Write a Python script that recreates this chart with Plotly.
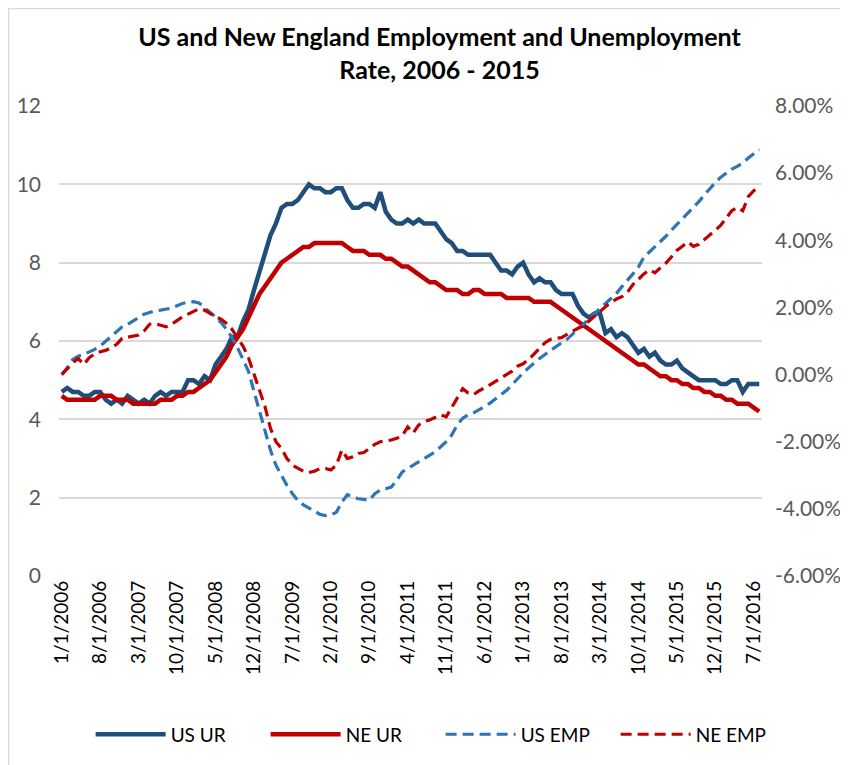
import pandas as pd
import plotly.graph_objects as go

# Monthly categories, Jan 2006 - Aug 2016
months = [f"{d.month}/1/{d.year}" for d in pd.date_range("2006-01-01", "2016-08-01", freq="MS")]

tick_labels = ["1/1/2006", "8/1/2006", "3/1/2007", "10/1/2007", "5/1/2008", "12/1/2008",
               "7/1/2009", "2/1/2010", "9/1/2010", "4/1/2011", "11/1/2011", "6/1/2012",
               "1/1/2013", "8/1/2013", "3/1/2014", "10/1/2014", "5/1/2015", "12/1/2015",
               "7/1/2016"]

us_ur = [4.7, 4.8, 4.7, 4.7, 4.6, 4.6, 4.7, 4.7, 4.5, 4.4, 4.5, 4.4,
         4.6, 4.5, 4.4, 4.5, 4.4, 4.6, 4.7, 4.6, 4.7, 4.7, 4.7, 5.0,
         5.0, 4.9, 5.1, 5.0, 5.4, 5.6, 5.8, 6.1, 6.1, 6.5, 6.8, 7.3,
         7.8, 8.3, 8.7, 9.0, 9.4, 9.5, 9.5, 9.6, 9.8, 10.0, 9.9, 9.9,
         9.8, 9.8, 9.9, 9.9, 9.6, 9.4, 9.4, 9.5, 9.5, 9.4, 9.8, 9.3,
         9.1, 9.0, 9.0, 9.1, 9.0, 9.1, 9.0, 9.0, 9.0, 8.8, 8.6, 8.5,
         8.3, 8.3, 8.2, 8.2, 8.2, 8.2, 8.2, 8.0, 7.8, 7.8, 7.7, 7.9,
         8.0, 7.7, 7.5, 7.6, 7.5, 7.5, 7.3, 7.2, 7.2, 7.2, 6.9, 6.7,
         6.6, 6.7, 6.7, 6.2, 6.3, 6.1, 6.2, 6.1, 5.9, 5.7, 5.8, 5.6,
         5.7, 5.5, 5.4, 5.4, 5.5, 5.3, 5.2, 5.1, 5.0, 5.0, 5.0, 5.0,
         4.9, 4.9, 5.0, 5.0, 4.7, 4.9, 4.9, 4.9]

ne_ur = [4.6, 4.5, 4.5, 4.5, 4.5, 4.5, 4.5, 4.6, 4.6, 4.6, 4.5, 4.5,
         4.5, 4.4, 4.4, 4.4, 4.4, 4.4, 4.5, 4.5, 4.5, 4.6, 4.6, 4.7,
         4.7, 4.8, 4.9, 5.0, 5.2, 5.4, 5.6, 5.9, 6.1, 6.3, 6.6, 6.9,
         7.2, 7.4, 7.6, 7.8, 8.0, 8.1, 8.2, 8.3, 8.4, 8.4, 8.5, 8.5,
         8.5, 8.5, 8.5, 8.5, 8.4, 8.3, 8.3, 8.3, 8.2, 8.2, 8.2, 8.1,
         8.1, 8.0, 7.9, 7.9, 7.8, 7.7, 7.6, 7.5, 7.5, 7.4, 7.3, 7.3,
         7.3, 7.2, 7.2, 7.3, 7.3, 7.2, 7.2, 7.2, 7.2, 7.1, 7.1, 7.1,
         7.1, 7.1, 7.0, 7.0, 7.0, 7.0, 6.9, 6.8, 6.7, 6.6, 6.5, 6.4,
         6.3, 6.2, 6.1, 6.0, 5.9, 5.8, 5.7, 5.6, 5.5, 5.4, 5.4, 5.3,
         5.2, 5.1, 5.1, 5.0, 5.0, 4.9, 4.9, 4.8, 4.8, 4.7, 4.7, 4.6,
         4.6, 4.5, 4.5, 4.4, 4.4, 4.4, 4.3, 4.2]

us_emp = [0.0, 0.2, 0.45, 0.55, 0.6, 0.67, 0.75, 0.85, 1.0, 1.15, 1.3, 1.42,
          1.5, 1.6, 1.7, 1.8, 1.85, 1.9, 1.92, 1.94, 1.98, 2.05, 2.12, 2.16,
          2.17, 2.13, 2.0, 1.88, 1.72, 1.55, 1.35, 1.1, 0.8, 0.45, 0.1, -0.5,
          -1.1, -1.7, -2.25, -2.7, -3.0, -3.3, -3.55, -3.75, -3.88, -3.98, -4.08, -4.16,
          -4.2, -4.18, -4.1, -3.8, -3.58, -3.65, -3.7, -3.72, -3.74, -3.55, -3.44, -3.4,
          -3.35, -3.15, -2.9, -2.8, -2.7, -2.58, -2.5, -2.4, -2.3, -2.15, -2.0, -1.8,
          -1.5, -1.3, -1.2, -1.14, -1.05, -0.95, -0.85, -0.72, -0.6, -0.47, -0.3, -0.12,
          0.05, 0.2, 0.35, 0.48, 0.6, 0.72, 0.85, 0.95, 1.05, 1.2, 1.35, 1.5,
          1.65, 1.82, 1.98, 2.12, 2.28, 2.42, 2.62, 2.8, 3.0, 3.2, 3.5, 3.65,
          3.8, 3.95, 4.12, 4.3, 4.47, 4.63, 4.8, 4.97, 5.15, 5.35, 5.55, 5.72,
          5.88, 6.0, 6.12, 6.2, 6.3, 6.45, 6.58, 6.7]

ne_emp = [0.0, 0.18, 0.35, 0.48, 0.3, 0.5, 0.62, 0.68, 0.72, 0.8, 0.9, 1.08,
          1.12, 1.15, 1.18, 1.3, 1.5, 1.52, 1.48, 1.42, 1.5, 1.62, 1.72, 1.8,
          1.88, 1.96, 1.92, 1.82, 1.72, 1.65, 1.52, 1.35, 1.1, 0.85, 0.5, 0.0,
          -0.5, -0.95, -1.6, -2.0, -2.2, -2.5, -2.7, -2.8, -2.88, -2.92, -2.88, -2.8,
          -2.8, -2.84, -2.7, -2.25, -2.5, -2.45, -2.35, -2.32, -2.2, -2.08, -2.0, -1.98,
          -1.95, -1.9, -1.82, -1.56, -1.74, -1.5, -1.4, -1.35, -1.28, -1.2, -1.26, -1.0,
          -0.7, -0.42, -0.55, -0.6, -0.48, -0.4, -0.3, -0.22, -0.12, -0.02, 0.1, 0.25,
          0.32, 0.45, 0.6, 0.78, 0.95, 1.05, 1.08, 1.1, 1.2, 1.3, 1.38, 1.45,
          1.6, 1.72, 1.88, 2.02, 2.15, 2.25, 2.32, 2.45, 2.68, 2.85, 3.0, 3.12,
          3.03, 3.18, 3.32, 3.5, 3.7, 3.82, 3.95, 3.82, 3.88, 4.02, 4.15, 4.3,
          4.45, 4.65, 4.88, 4.98, 4.88, 5.3, 5.48, 5.6]

left_ticks = [0, 2, 4, 6, 8, 10, 12]
right_ticks = [-6, -4, -2, 0, 2, 4, 6, 8]
right_tick_text = ["-6.00%", "-4.00%", "-2.00%", "0.00%", "2.00%", "4.00%", "6.00%", "8.00%"]

FONT = "Lato"
TICK_COLOR = "#595959"
GRID = "#d9d9d9"

fig = go.Figure()
fig.add_trace(go.Scatter(x=months, y=us_ur, name="US UR", mode="lines",
                         line=dict(color="#1f4e79", width=4.5)))
fig.add_trace(go.Scatter(x=months, y=ne_ur, name="NE UR", mode="lines",
                         line=dict(color="#c00000", width=4.5)))
fig.add_trace(go.Scatter(x=months, y=us_emp, name="US EMP", mode="lines", yaxis="y2",
                         line=dict(color="#2e75b6", width=3.2, dash="11px,6px")))
fig.add_trace(go.Scatter(x=months, y=ne_emp, name="NE EMP", mode="lines", yaxis="y2",
                         line=dict(color="#c00000", width=3.2, dash="11px,6px")))

fig.update_layout(
    width=848, height=765,
    margin=dict(l=51, r=94, t=98, b=196.5, autoexpand=False),
    paper_bgcolor="white", plot_bgcolor="white",
    font=dict(family=FONT, size=20, color=TICK_COLOR),
    title=dict(text="<b>US and New England Employment and Unemployment<br>Rate, 2006 - 2015</b>",
               x=431.5 / 848, xanchor="center", y=1 - 38 / 765, yanchor="middle",
               yref="container", font=dict(family=FONT, size=25, color="black")),
    xaxis=dict(type="category", range=[-0.5, len(months) - 0.5],
               tickmode="array", tickvals=tick_labels, ticktext=tick_labels,
               tickangle=-90, showgrid=False, showline=False, zeroline=False,
               ticks="", tickfont=dict(size=19, color="black", family=FONT)),
    yaxis=dict(range=[0, 12], tickvals=left_ticks, showgrid=True, gridcolor=GRID,
               gridwidth=1.5, zeroline=False, showline=False, ticks="",
               ticklabelstandoff=17, tickfont=dict(size=21, color=TICK_COLOR)),
    yaxis2=dict(range=[-6, 8], tickvals=right_ticks, ticktext=right_tick_text,
                overlaying="y", side="right", showgrid=False, zeroline=False,
                showline=False, ticks="", ticklabelstandoff=12,
                tickfont=dict(size=21, color=TICK_COLOR)),
    legend=dict(orientation="h", x=0.045, xanchor="left", y=-0.337, yanchor="middle",
                font=dict(size=19, color="black", family=FONT),
                itemwidth=70, entrywidth=90, entrywidthmode="pixels"),
    shapes=[dict(type="rect", xref="paper", yref="paper",
                 x0=-50.5 / 703, x1=1.4, y0=-0.6, y1=568 / 470.5,
                 line=dict(color=GRID, width=1.5), layer="below")],
)

fig.write_html("out.html")
